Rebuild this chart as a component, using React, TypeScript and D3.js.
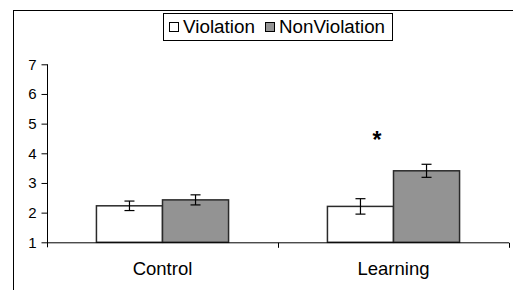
import React, { useEffect, useRef } from "react";
import * as d3 from "d3";

const categories = ["Control", "Learning"];
const seriesNames = ["Violation", "NonViolation"];
const violationMeans = [2.23, 2.21];
const violationErrors = [0.16, 0.26];
const nonViolationMeans = [2.43, 3.41];
const nonViolationErrors = [0.17, 0.22];
const yTicks = [1, 2, 3, 4, 5, 6, 7];
const significant = [false, true];

const fills = ["#ffffff", "#939393"];

export default function App() {
  const svgRef = useRef<SVGSVGElement>(null);
  const width = 513;
  const height = 290;

  useEffect(() => {
    const svg = d3.select(svgRef.current);
    svg.selectAll("*").remove();

    const font = "Liberation Sans, Arial, sans-serif";

    // outer frame
    svg
      .append("rect")
      .attr("x", 13.5)
      .attr("y", 10.5)
      .attr("width", 520)
      .attr("height", 300)
      .attr("fill", "#fff")
      .attr("stroke", "#000")
      .attr("stroke-width", 1);

    const plotLeft = 47;
    const plotRight = 509;

    const y = d3.scaleLinear().domain([1, 7]).range([242.3, 64.3]);
    const x0 = d3.scaleBand().domain(categories).range([plotLeft, plotRight]);
    const groupW = x0.bandwidth() * 0.572;
    const x1 = d3.scaleBand().domain(seriesNames).range([0, groupW]);

    const data = categories.flatMap((c, i) => [
      { cat: c, s: seriesNames[0], v: violationMeans[i], e: violationErrors[i] },
      { cat: c, s: seriesNames[1], v: nonViolationMeans[i], e: nonViolationErrors[i] },
    ]);

    const g = svg.append("g");

    // bars
    g.selectAll("rect.bar")
      .data(data)
      .enter()
      .append("rect")
      .attr("class", "bar")
      .attr("x", (d) => x0(d.cat)! + (x0.bandwidth() - groupW) / 2 + x1(d.s)!)
      .attr("y", (d) => y(d.v))
      .attr("width", x1.bandwidth())
      .attr("height", (d) => y(1) - y(d.v))
      .attr("fill", (d) => fills[seriesNames.indexOf(d.s)])
      .attr("stroke", "#2a2a2a")
      .attr("stroke-width", 1.5);

    // error bars
    const eb = g
      .selectAll("g.err")
      .data(data)
      .enter()
      .append("g")
      .attr("stroke", "#000")
      .attr("stroke-width", 1.2);
    const cx = (d: any) =>
      x0(d.cat)! + (x0.bandwidth() - groupW) / 2 + x1(d.s)! + x1.bandwidth() / 2;
    eb.append("line")
      .attr("x1", cx)
      .attr("x2", cx)
      .attr("y1", (d) => y(d.v + d.e))
      .attr("y2", (d) => y(d.v - d.e));
    eb.append("line")
      .attr("x1", (d) => cx(d) - 5)
      .attr("x2", (d) => cx(d) + 5)
      .attr("y1", (d) => y(d.v + d.e))
      .attr("y2", (d) => y(d.v + d.e));
    eb.append("line")
      .attr("x1", (d) => cx(d) - 5)
      .attr("x2", (d) => cx(d) + 5)
      .attr("y1", (d) => y(d.v - d.e))
      .attr("y2", (d) => y(d.v - d.e));

    // y axis
    const yAxis = g
      .append("g")
      .attr("transform", `translate(${plotLeft + 0.5},0)`)
      .call(d3.axisLeft(y).tickValues(yTicks).tickSize(6).tickPadding(5).tickFormat(d3.format("d")));
    yAxis.select(".domain").attr("stroke", "#000").attr("d", `M-0,${y(7)}V${y(1) + 5}`);
    yAxis.selectAll("text").attr("font-family", font).attr("font-size", 15).attr("fill", "#000");

    // x axis
    const xAxis = g.append("g").attr("transform", `translate(0,${y(1) + 0.5})`);
    xAxis
      .append("line")
      .attr("x1", plotLeft)
      .attr("x2", plotRight)
      .attr("stroke", "#000");
    xAxis
      .selectAll("line.tk")
      .data(categories)
      .enter()
      .append("line")
      .attr("class", "tk")
      .attr("x1", (c) => x0(c)! + x0.bandwidth() + 0.5)
      .attr("x2", (c) => x0(c)! + x0.bandwidth() + 0.5)
      .attr("y1", 0)
      .attr("y2", 5)
      .attr("stroke", "#000");
    xAxis
      .selectAll("text")
      .data(categories)
      .enter()
      .append("text")
      .attr("x", (c) => x0(c)! + x0.bandwidth() / 2)
      .attr("y", 32.2)
      .attr("text-anchor", "middle")
      .attr("font-family", font)
      .attr("font-size", 18.5)
      .text((c) => c);

    // significance markers
    g.selectAll("text.sig")
      .data(categories.filter((_, i) => significant[i]))
      .enter()
      .append("text")
      .attr("class", "sig")
      .attr("x", (c) => x0(c)! + x0.bandwidth() / 2 - x1.bandwidth() / 4)
      .attr("y", 148)
      .attr("text-anchor", "middle")
      .attr("font-family", font)
      .attr("font-size", 23)
      .attr("font-weight", "bold")
      .text("*");

    // legend
    const legend = svg.append("g");
    legend
      .append("rect")
      .attr("x", 163.5)
      .attr("y", 13.5)
      .attr("width", 229)
      .attr("height", 27)
      .attr("fill", "#fff")
      .attr("stroke", "#000");
    const legendX = [169.5, 265.5];
    seriesNames.forEach((s, i) => {
      legend
        .append("rect")
        .attr("x", legendX[i])
        .attr("y", 22.5)
        .attr("width", 9)
        .attr("height", 9)
        .attr("fill", fills[i])
        .attr("stroke", "#000");
      legend
        .append("text")
        .attr("x", legendX[i] + 13.5)
        .attr("y", 32.7)
        .attr("font-family", font)
        .attr("font-size", 18)
        .attr("textLength", i === 0 ? 72 : 106)
        .attr("lengthAdjust", "spacingAndGlyphs")
        .text(s);
    });
  }, []);

  return (
    <svg
      ref={svgRef}
      width={width}
      height={height}
      style={{ position: "absolute", left: 0, top: 0, display: "block" }}
    ></svg>
  );
}
